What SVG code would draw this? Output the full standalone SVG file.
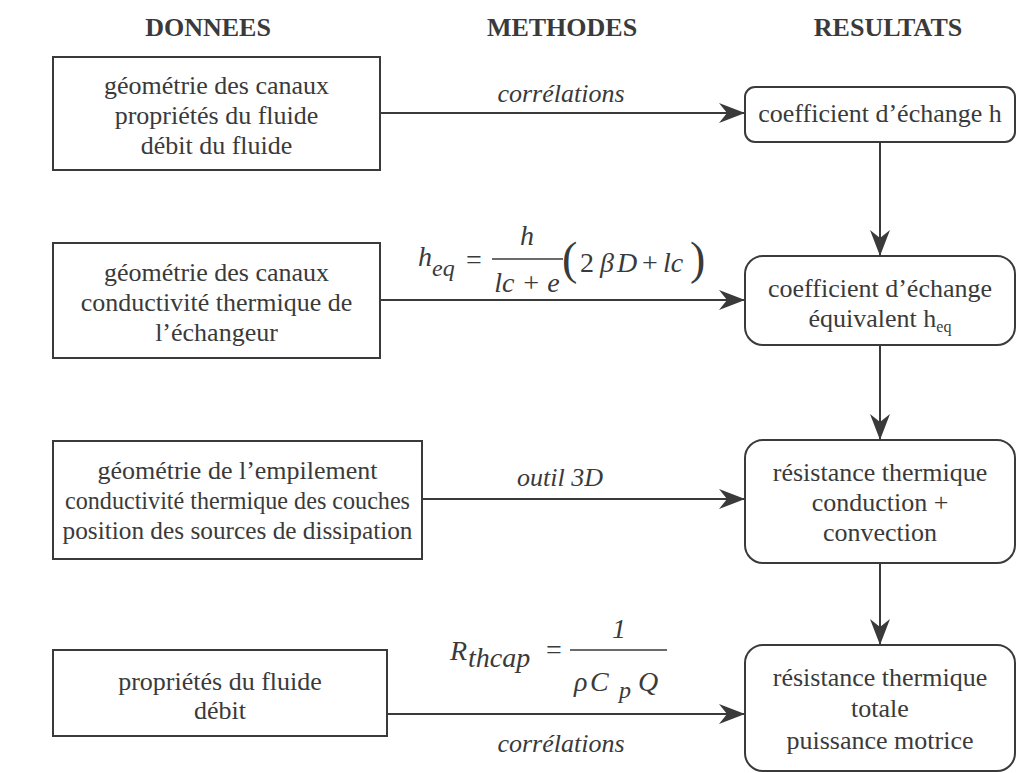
<svg xmlns="http://www.w3.org/2000/svg" width="1017" height="773" viewBox="0 0 1017 773">
<style>
.hdr{font-family:"Liberation Serif",serif;font-weight:bold;font-size:26px;fill:#3a3a3a;text-anchor:middle}
.t{font-family:"Liberation Serif",serif;font-size:26px;fill:#3a3a3a;text-anchor:middle}
.lbl{font-family:"Liberation Serif",serif;font-style:italic;font-size:26px;fill:#3a3a3a;text-anchor:middle}
.m{font-family:"Liberation Serif",serif;font-style:italic;font-size:28px;fill:#3a3a3a}
.mu{font-family:"Liberation Serif",serif;font-size:28px;fill:#3a3a3a}
.box{fill:#fff;stroke:#3a3a3a;stroke-width:2}
.con{stroke:#3a3a3a;stroke-width:2;fill:none;marker-end:url(#ah)}
</style>
<defs>
<marker id="ah" markerUnits="userSpaceOnUse" markerWidth="28" markerHeight="22" refX="26" refY="10" orient="auto">
<path d="M0,0 L26,10 L0,20 L8,10 Z" fill="#3a3a3a"/>
</marker>
</defs>
<rect width="1017" height="773" fill="#fff"/>
<g id="headers">
<text class="hdr" x="208" y="36">DONNEES</text>
<text class="hdr" x="562" y="36">METHODES</text>
<text class="hdr" x="888" y="36">RESULTATS</text>
</g>
<g id="connectors">
<line class="con" x1="380" y1="113" x2="745" y2="113"/>
<line class="con" x1="380" y1="300" x2="745" y2="300"/>
<line class="con" x1="422" y1="499" x2="745" y2="499"/>
<line class="con" x1="387" y1="714" x2="745" y2="714"/>
<line class="con" x1="880" y1="142" x2="880" y2="256"/>
<line class="con" x1="880" y1="345" x2="880" y2="440"/>
<line class="con" x1="880" y1="563" x2="880" y2="645"/>
<text class="lbl" x="561" y="102">corrélations</text>
<text class="lbl" x="560" y="486">outil 3D</text>
<text class="lbl" x="561" y="752">corrélations</text>
</g>
<g id="formula-heq">
<text class="m" x="418" y="266">h</text>
<text class="m" x="432" y="276" style="font-size:24px">eq</text>
<text class="mu" x="466" y="269">=</text>
<line x1="492" y1="259" x2="563" y2="259" stroke="#3a3a3a" stroke-width="1.5"/>
<text class="m" x="527" y="245" text-anchor="middle">h</text>
<text class="m" x="527" y="292" text-anchor="middle">lc + e</text>
<text class="mu" x="562" y="274" style="font-size:46px">(</text>
<text class="mu" x="580" y="272">2</text>
<text class="m" x="600" y="272">β</text>
<text class="m" x="617" y="272">D</text>
<text class="mu" x="642" y="272">+</text>
<text class="m" x="663" y="272">lc</text>
<text class="mu" x="690" y="274" style="font-size:46px">)</text>
</g>
<g id="formula-rthcap">
<text class="m" x="450" y="660">R</text>
<text class="m" x="468" y="667">thcap</text>
<text class="mu" x="546" y="659">=</text>
<line x1="570" y1="650" x2="667" y2="650" stroke="#3a3a3a" stroke-width="1.5"/>
<text class="m" x="619" y="638" text-anchor="middle">1</text>
<text class="m" x="574" y="691">ρ</text>
<text class="m" x="590" y="691">C</text>
<text class="m" x="619" y="698" style="font-size:24px">p</text>
<text class="m" x="638" y="691">Q</text>
</g>
<g id="d1">
<rect class="box" x="53" y="57" width="327" height="113"/>
<text class="t" x="216.5" y="94">géométrie des canaux</text>
<text class="t" x="216.5" y="124">propriétés du fluide</text>
<text class="t" x="216.5" y="154">débit du fluide</text>
</g>
<g id="d2">
<rect class="box" x="53" y="243" width="327" height="115"/>
<text class="t" x="216.5" y="281">géométrie des canaux</text>
<text class="t" x="216.5" y="311">conductivité thermique de</text>
<text class="t" x="216.5" y="341">l’échangeur</text>
</g>
<g id="d3">
<rect class="box" x="53" y="441" width="369" height="118"/>
<text class="t" x="237.5" y="479">géométrie de l’empilement</text>
<text class="t" x="237.5" y="509" textLength="345" lengthAdjust="spacingAndGlyphs">conductivité thermique des couches</text>
<text class="t" x="237.5" y="539" textLength="350" lengthAdjust="spacingAndGlyphs">position des sources de dissipation</text>
</g>
<g id="d4">
<rect class="box" x="53" y="650" width="334" height="86"/>
<text class="t" x="220" y="690">propriétés du fluide</text>
<text class="t" x="220" y="719">débit</text>
</g>
<g id="r1">
<rect class="box" x="745" y="87" width="270" height="55" rx="10"/>
<text class="t" x="880" y="122">coefficient d’échange h</text>
</g>
<g id="r2">
<rect class="box" x="745" y="256" width="270" height="89" rx="18"/>
<text class="t" x="880" y="297">coefficient d’échange</text>
<text class="t" x="880" y="327">équivalent h<tspan style="font-size:16px" dy="5">eq</tspan></text>
</g>
<g id="r3">
<rect class="box" x="745" y="440" width="270" height="123" rx="18"/>
<text class="t" x="880" y="481">résistance thermique</text>
<text class="t" x="880" y="511">conduction +</text>
<text class="t" x="880" y="541">convection</text>
</g>
<g id="r4">
<rect class="box" x="745" y="645" width="270" height="126" rx="18"/>
<text class="t" x="880" y="686">résistance thermique</text>
<text class="t" x="880" y="717">totale</text>
<text class="t" x="880" y="749">puissance motrice</text>
</g>
</svg>
